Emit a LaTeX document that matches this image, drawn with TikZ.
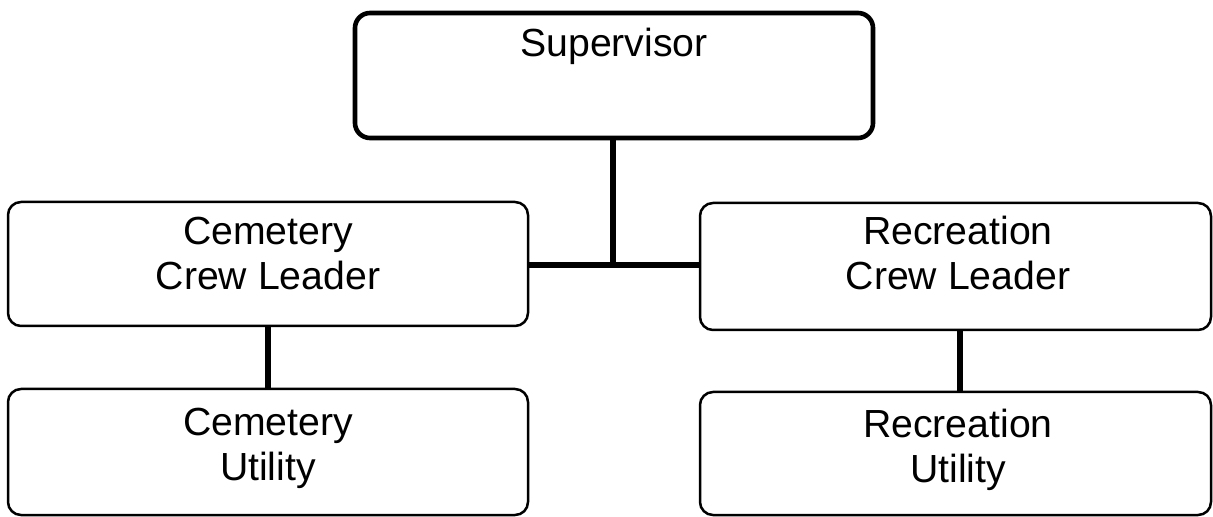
\documentclass[tikz,border=0pt]{standalone}
\usepackage{fontspec}
\setmainfont{Liberation Sans}
\begin{document}
\begin{tikzpicture}[x=0.5pt,y=-0.5pt,
  box/.style={draw=black, rectangle, rounded corners=6.5pt, inner sep=0pt, line width=1.25pt},
  topbox/.style={box, line width=2.3pt, rounded corners=7.5pt},
  lbl/.style={inner sep=0pt, align=center, anchor=base, font=\fontsize{19.6pt}{22.5pt}\selectfont},
  link/.style={line width=3pt}]
\useasboundingbox (0,0) rectangle (1213,517);
\node[topbox, minimum width=259pt, minimum height=62.5pt] (sup) at (614,75.5) {};
\node[box, minimum width=260pt, minimum height=62pt] (cemcl) at (268,264) {};
\node[box, minimum width=255.5pt, minimum height=63.5pt] (reccl) at (955.5,266.5) {};
\node[box, minimum width=260pt, minimum height=63pt] (cemu) at (268,452) {};
\node[box, minimum width=255.5pt, minimum height=61.5pt] (recu) at (955.5,453.5) {};
\node[lbl] (supt) at (614,57) {Supervisor};
\node[lbl] (cemclt) at (268,290) {Cemetery\\Crew Leader};
\node[lbl] (recclt) at (958,290) {Recreation\\Crew Leader};
\node[lbl] (cemut) at (268,480) {Cemetery\\Utility};
\node[lbl] (recut) at (958,482) {Recreation\\Utility};
\coordinate (j) at (613,265);
\draw[link] (sup.south -| j) -- (j);
\draw[link] (cemcl.east |- j) -- (reccl.west |- j);
\draw[link] (cemcl.south) -- (cemu.north);
\coordinate (rs) at (960,330);
\draw[link] (reccl.south -| rs) -- (recu.north -| rs);
\end{tikzpicture}
\end{document}
